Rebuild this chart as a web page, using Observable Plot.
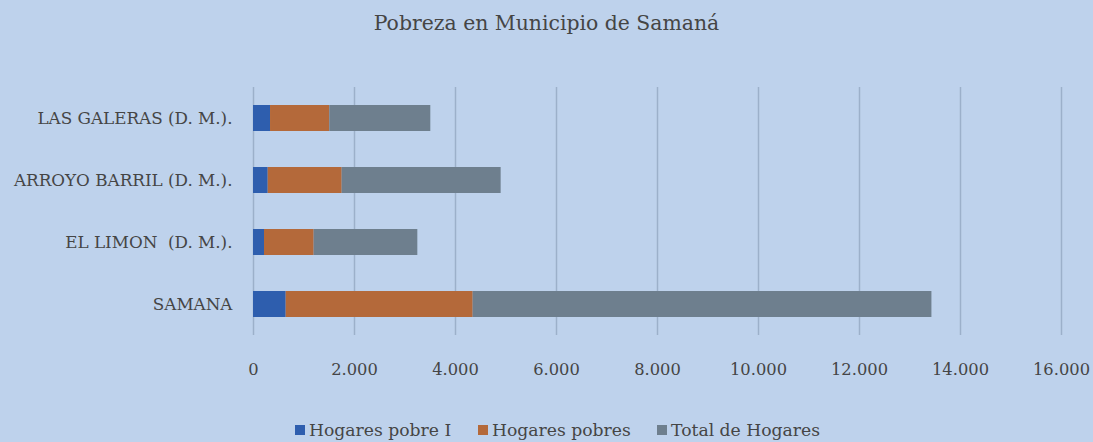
<!DOCTYPE html>
<html>
<head>
<meta charset="utf-8">
<script src="https://cdn.jsdelivr.net/npm/d3@7"></script>
<script src="https://cdn.jsdelivr.net/npm/@observablehq/plot@0.6"></script>
<style>
  html, body { margin: 0; padding: 0; background: #bed2ec; }
  body { width: 1093px; height: 442px; overflow: hidden; font-family: "DejaVu Serif", "Liberation Serif", serif; color: #454545; }
  #title { height: 50px; line-height: 46px; text-align: center; font-size: 20.4px; color: #454545; }
  #legend { height: 42px; position: relative; font-size: 17.2px; color: #454545; }
  #legend .item { position: absolute; top: 20px; display: flex; align-items: center; gap: 4px; white-space: nowrap; }
  #legend .sw { width: 10px; height: 10px; display: inline-block; }
  svg { display: block; }
</style>
</head>
<body>
<div id="title">Pobreza en Municipio de Samaná</div>
<div id="chart"></div>
<div id="legend"></div>
<script>
const categories = ["LAS GALERAS (D. M.).", "ARROYO BARRIL (D. M.).", "EL LIMON  (D. M.).", "SAMANA"];
const seriesNames = ["Hogares pobre I", "Hogares pobres", "Total de Hogares"];
const hogaresPobreI = [337, 291, 218, 647];
const hogaresPobres = [1174, 1465, 983, 3703];
const totalHogares = [2000, 3148, 2053, 9084];
const xTicks = [0, 2000, 4000, 6000, 8000, 10000, 12000, 14000, 16000];
const colors = ["#2e5eae", "#b4693a", "#6e7f8e"];

const seriesValues = [hogaresPobreI, hogaresPobres, totalHogares];
const data = [];
categories.forEach((c, i) => {
  seriesNames.forEach((s, j) => data.push({cat: c, series: s, value: seriesValues[j][i]}));
});

const fmt = d => d3.format(",")(d).replace(/,/g, ".");

const chart = Plot.plot({
  width: 1093,
  height: 350,
  marginLeft: 253,
  marginRight: 32,
  marginTop: 37,
  marginBottom: 65,
  style: {background: "transparent", fontFamily: "DejaVu Serif, serif", fontSize: "15px", color: "#454545"},
  x: {domain: [0, 16000], ticks: xTicks, tickFormat: fmt, label: null},
  y: {domain: categories, paddingInner: 0.58, paddingOuter: 0.29, label: null},
  color: {domain: seriesNames, range: colors},
  marks: [
    Plot.gridX(xTicks, {stroke: "#9cb0ca", strokeOpacity: 1, strokeWidth: 1.5}),
    Plot.barX(data, {x: "value", y: "cat", fill: "series", order: seriesNames}),
    Plot.axisX({ticks: xTicks, tickFormat: fmt, tickSize: 0, tickPadding: 28, fontSize: 16.3, fill: "#454545", label: null}),
    Plot.axisY({tickSize: 0, tickPadding: 21, fontSize: 16.8, fill: "#454545", label: null})
  ]
});
document.getElementById("chart").appendChild(chart);

const legend = document.getElementById("legend");
const legendX = [295, 478, 657];
seriesNames.forEach((s, i) => {
  const it = document.createElement("div");
  it.className = "item";
  it.style.left = legendX[i] + "px";
  const sw = document.createElement("span");
  sw.className = "sw";
  sw.style.background = colors[i];
  const t = document.createElement("span");
  t.textContent = s;
  it.appendChild(sw); it.appendChild(t);
  legend.appendChild(it);
});
</script>
</body>
</html>
